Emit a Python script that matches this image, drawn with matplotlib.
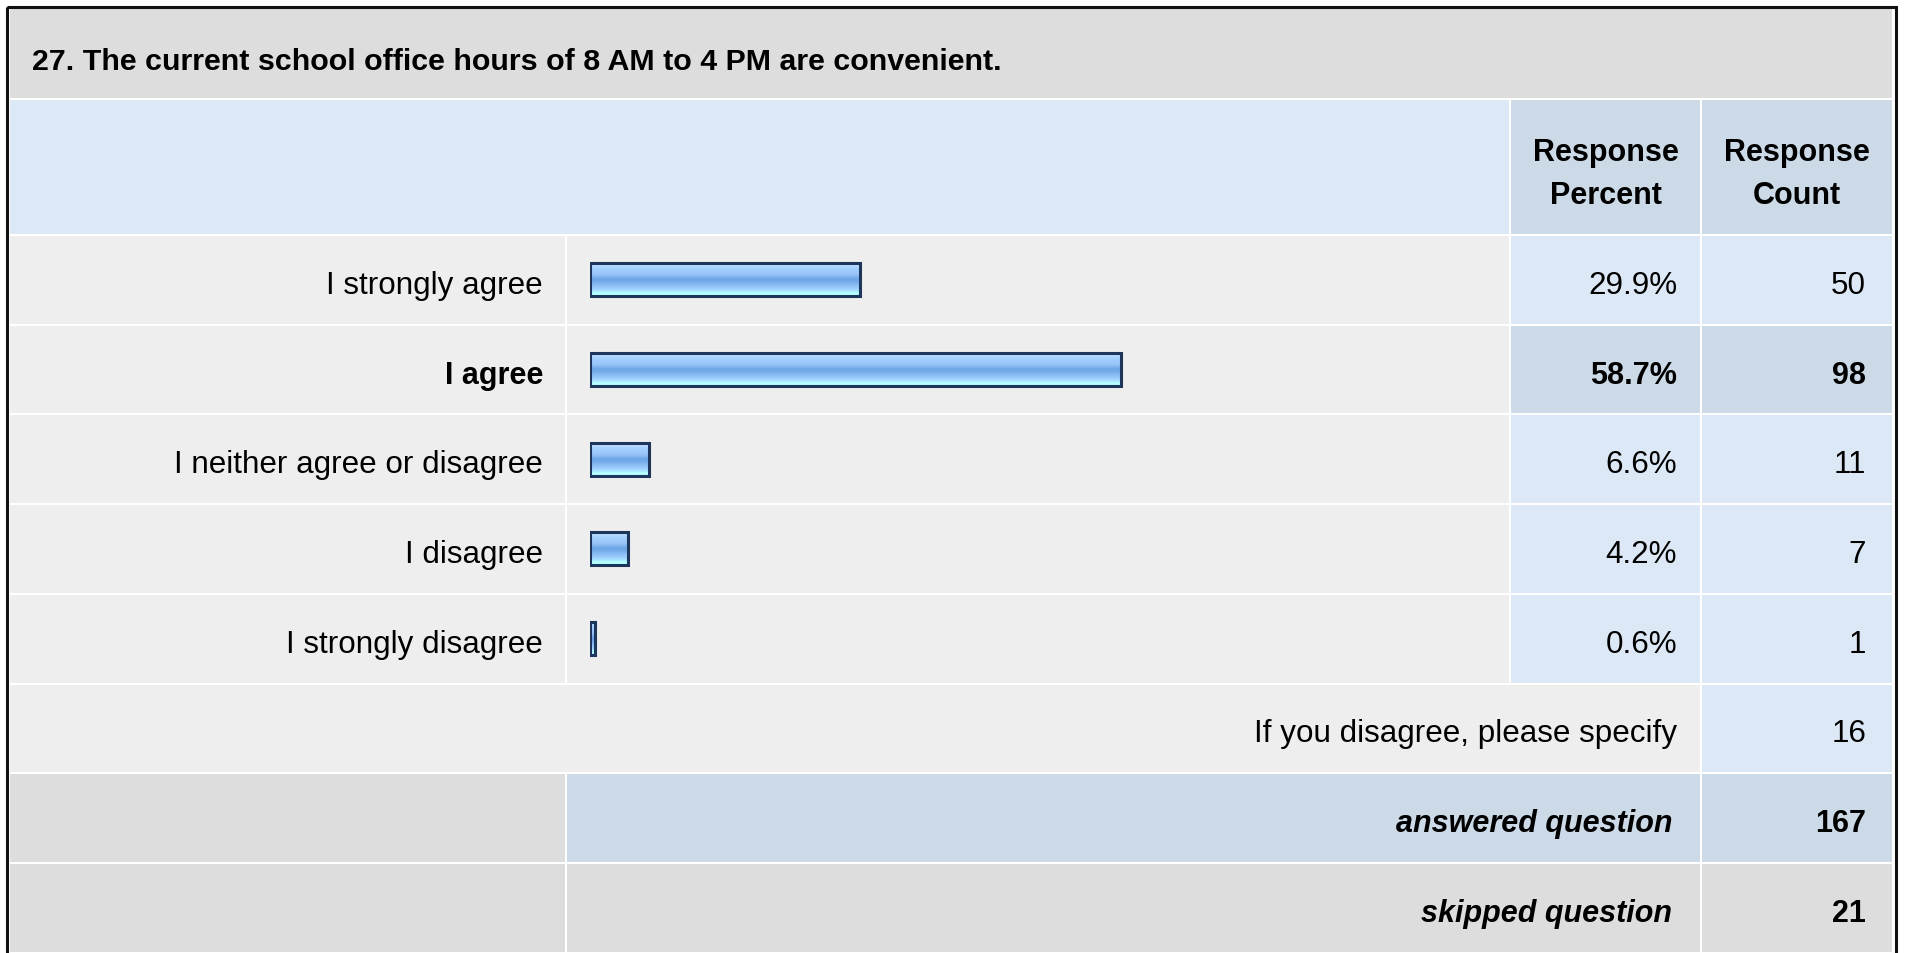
import numpy as np
import matplotlib.pyplot as plt
from matplotlib.patches import Rectangle
from matplotlib.colors import to_rgb

plt.rcParams['font.family'] = ['Liberation Sans', 'DejaVu Sans']

# survey results
question = '27. The current school office hours of 8 AM to 4 PM are convenient.'
answers = ['I strongly agree', 'I agree', 'I neither agree or disagree',
           'I disagree', 'I strongly disagree']
percents = [29.9, 58.7, 6.6, 4.2, 0.6]
counts = [50, 98, 11, 7, 1]
specify_label = 'If you disagree, please specify'
specify_count = 16
answered = 167
skipped = 21

# page geometry (pixels)
W, H = 1907, 954
left, right = 10, 1892
col_label, col_bar, col_pct = 566, 1510, 1701
title_bot = 100
head_bot = 236
row_h = 89.7

c_title = '#dddddd'
c_head = '#dce8f5'
c_headcell = '#ccd9e6'
c_row = '#eeeeee'
c_cell = '#dce8f5'
c_hi = '#ccd9e6'
fs = 22.6
fs_bold = 22

fig = plt.figure(figsize=(W / 100, H / 100), dpi=100)
ax = fig.add_axes([0, 0, 1, 1])
ax.set_xlim(0, W)
ax.set_ylim(H, 0)
ax.axis('off')


def cell(x0, x1, y0, y1, color):
    ax.add_patch(Rectangle((x0 + 1, y0 + 1), x1 - x0 - 2, y1 - y0 - 2,
                           facecolor=color, edgecolor='none', zorder=1))


# outer frame
ax.add_patch(Rectangle((6.5, 8), 1889, 960, facecolor='none',
                       edgecolor='#111111', linewidth=2.2, zorder=5))

# title
cell(left - 1, right + 1, 9, title_bot, c_title)
ax.text(32, 70, question, fontsize=fs_bold - 0.1, fontweight='bold',
        ha='left', va='baseline')

# header
cell(left - 1, col_bar, title_bot, head_bot, c_head)
cell(col_bar, col_pct, title_bot, head_bot, c_headcell)
cell(col_pct, right + 1, title_bot, head_bot, c_headcell)
for cx, word in [((col_bar + col_pct) / 2, 'Percent'),
                 ((col_pct + right) / 2, 'Count')]:
    ax.text(cx, 161, 'Response', fontsize=fs_bold, fontweight='bold',
            ha='center', va='baseline')
    ax.text(cx, 204, word, fontsize=fs_bold, fontweight='bold',
            ha='center', va='baseline')

row_tops = [head_bot + i * row_h for i in range(len(answers) + 3)]
top_idx = int(np.argmax(percents))

# bar column in percent units
bar_x0, bar_scale = 589.5, 9.05
bx = fig.add_axes([bar_x0 / W, 0, 100 * bar_scale / W, 1])
bx.set_xlim(0, 100)
bx.set_ylim(H, 0)
bx.axis('off')
bx.patch.set_alpha(0)

grad_colors = ['#c6e0ff', '#b4d8ff', '#a6d0ff', '#a0ccff', '#9cc8fc',
               '#98c4f8', '#86b8f0', '#70a8e8', '#70a8e8', '#7cb0ec',
               '#88bcf4', '#94c6f8', '#a0d0ff', '#a8e4ff', '#b4ffff',
               '#b4ffff']
grad = np.array([to_rgb(c) for c in grad_colors])[:, None, :]
bar_h = 33

for i, (lab, p, n) in enumerate(zip(answers, percents, counts)):
    y0 = row_tops[i]
    y1 = y0 + row_h
    hi = i == top_idx
    cell(left - 1, col_label, y0, y1, c_row)
    cell(col_label, col_bar, y0, y1, c_row)
    cell(col_bar, col_pct, y0, y1, c_hi if hi else c_cell)
    cell(col_pct, right + 1, y0, y1, c_hi if hi else c_cell)

    wt = 'bold' if hi else 'normal'
    size = fs_bold if hi else fs
    base = y0 + 58
    ax.text(543, base, lab, fontsize=size, fontweight=wt, ha='right', va='baseline')
    ax.text(1677, base, f'{p:.1f}%', fontsize=size, fontweight=wt,
            ha='right', va='baseline')
    ax.text(1866, base, str(n), fontsize=size, fontweight=wt,
            ha='right', va='baseline')

    yc = y0 + row_h / 2
    bars = bx.barh(yc, p, height=bar_h, left=0, facecolor='none',
                   edgecolor='#1c365c', linewidth=2.2, zorder=3)
    img = bx.imshow(grad, extent=(0, p, yc + bar_h / 2, yc - bar_h / 2),
                    aspect='auto', interpolation='bilinear', zorder=2)
    img.set_clip_path(bars[0])

# specify row
y0 = row_tops[len(answers)]
cell(left - 1, col_pct, y0, y0 + row_h, c_row)
cell(col_pct, right + 1, y0, y0 + row_h, c_cell)
ax.text(1677, y0 + 58, specify_label, fontsize=fs, ha='right', va='baseline')
ax.text(1866, y0 + 58, str(specify_count), fontsize=fs, ha='right', va='baseline')

# summary rows
summary = [('answered question', answered, c_hi),
           ('skipped question', skipped, c_title)]
for k, (lab, n, col) in enumerate(summary):
    y0 = row_tops[len(answers) + 1 + k]
    cell(left - 1, col_label, y0, y0 + row_h, c_title)
    cell(col_label, col_pct, y0, y0 + row_h, col)
    cell(col_pct, right + 1, y0, y0 + row_h, col)
    ax.text(1672, y0 + 58, lab, fontsize=fs_bold, fontweight='bold', style='italic',
            ha='right', va='baseline')
    ax.text(1866, y0 + 58, str(n), fontsize=fs_bold, fontweight='bold',
            ha='right', va='baseline')

fig.savefig('out.png', dpi=100)
